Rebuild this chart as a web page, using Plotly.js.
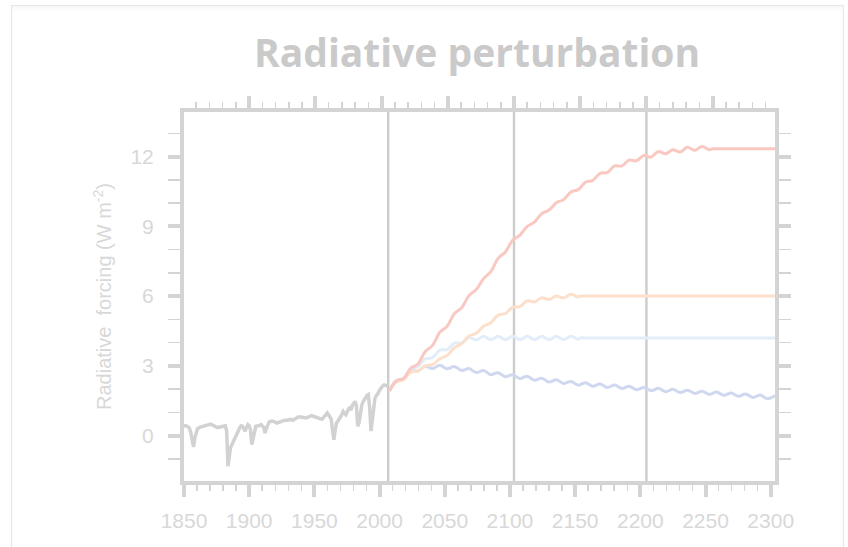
<!DOCTYPE html>
<html>
<head>
<meta charset="utf-8">
<script src="https://cdn.plot.ly/plotly-3.0.1.min.js"></script>
<style>
  html, body { margin: 0; padding: 0; background: #ffffff; }
  #wrap { position: relative; width: 848px; height: 547px; overflow: hidden; }
  #frame { position: absolute; left: 11px; top: 5px; width: 831px; height: 600px;
           border: 1.5px solid #e6e6e6; box-shadow: inset 0 3px 4px rgba(0,0,0,0.03); }
  #chart { position: absolute; left: 0; top: 0; width: 848px; height: 547px; }
</style>
</head>
<body>
<div id="wrap">
  <div id="frame"></div>
  <div id="chart"></div>
</div>
<script>
// ---- Historical total radiative forcing (W m-2) ----
const histYears = [1850, 1852, 1854, 1855, 1856, 1857, 1858, 1859, 1860, 1861, 1863, 1865, 1868, 1871, 1874, 1876, 1878, 1880, 1882,
  1883, 1884, 1885, 1886, 1887, 1888, 1889, 1890, 1891, 1892, 1893, 1894, 1895, 1896, 1897, 1898, 1899, 1900, 1901, 1902, 1903, 1904, 1905,
  1907, 1909, 1911, 1912, 1913, 1915, 1917, 1919, 1921, 1923, 1925, 1927, 1929, 1931, 1933, 1935, 1937, 1939, 1941, 1943, 1945, 1947,
  1949, 1951, 1953, 1955, 1957, 1959, 1961, 1962, 1963, 1964, 1965, 1966, 1967, 1968, 1969, 1970, 1971, 1972, 1973, 1974, 1975, 1976,
  1977, 1978, 1979, 1980, 1981, 1982, 1983, 1984, 1985, 1986, 1987, 1988, 1989, 1990, 1991, 1992, 1993, 1994, 1995, 1996, 1997, 1998,
  1999, 2000, 2001, 2002, 2003, 2004, 2005];
const histForcing = [0.40, 0.43, 0.37, 0.30, 0.10, -0.25, -0.49, -0.10, 0.20, 0.30, 0.36, 0.40, 0.44, 0.49, 0.40, 0.34, 0.37, 0.40, 0.42,
  0.20, -1.32, -0.90, -0.50, -0.38, -0.25, -0.17, 0.00, 0.15, 0.25, 0.35, 0.42, 0.40, 0.30, 0.19, 0.35, 0.47, 0.42, 0.25, -0.39, -0.10, 0.30, 0.40,
  0.42, 0.47, 0.35, 0.11, 0.30, 0.58, 0.62, 0.60, 0.54, 0.58, 0.64, 0.66, 0.66, 0.70, 0.66, 0.72, 0.80, 0.80, 0.78, 0.76, 0.80, 0.86,
  0.82, 0.76, 0.74, 0.70, 0.86, 0.97, 0.80, 0.69, 0.20, -0.18, 0.25, 0.55, 0.62, 0.70, 0.76, 0.90, 1.04, 0.96, 0.90, 1.00, 1.15, 1.19,
  1.10, 1.30, 1.40, 1.47, 1.30, 0.40, 0.55, 0.97, 1.30, 1.45, 1.55, 1.62, 1.72, 1.76, 1.20, 0.19, 0.70, 1.40, 1.60, 1.72, 1.78, 1.90,
  2.02, 2.08, 2.14, 2.18, 2.16, 2.13, 2.12];

// ---- Scenario years (solar-cycle peaks and troughs, then stabilisation) ----
const yearsRcp26 = [2006, 2011, 2016.5, 2022, 2027.5, 2033, 2038.5, 2044, 2049.5, 2055, 2060.5, 2066, 2071.5, 2077, 2082.5, 2088, 2093.5,
  2099, 2104.5, 2110, 2115.5, 2121, 2126.5, 2132, 2137.5, 2143, 2148.5, 2154, 2159.5, 2165, 2170.5, 2176, 2181.5, 2187, 2192.5, 2198,
  2203.5, 2209, 2214.5, 2220, 2225.5, 2231, 2236.5, 2242, 2247.5, 2253, 2258.5, 2264, 2269.5, 2275, 2280.5, 2286, 2291.5, 2297, 2300];
const yearsRcp45and60 = [2006, 2011, 2016.5, 2022, 2027.5, 2033, 2038.5, 2044, 2049.5, 2055, 2060.5, 2066, 2071.5, 2077, 2082.5, 2088, 2093.5,
  2099, 2104.5, 2110, 2115.5, 2121, 2126.5, 2132, 2137.5, 2143, 2148.5, 2150, 2153, 2300];
const yearsRcp85 = [2006, 2011, 2016.5, 2022, 2027.5, 2033, 2038.5, 2044, 2049.5, 2055, 2060.5, 2066, 2071.5, 2077, 2082.5, 2088, 2093.5,
  2099, 2104.5, 2110, 2115.5, 2121, 2126.5, 2132, 2137.5, 2143, 2148.5, 2154, 2159.5, 2165, 2170.5, 2176, 2181.5, 2187, 2192.5, 2198,
  2203.5, 2209, 2214.5, 2220, 2225.5, 2231, 2236.5, 2242, 2247.5, 2250, 2253, 2300];

const rcp26 = [1.93, 2.35, 2.45, 2.80, 2.78, 2.98, 2.88, 3.03, 2.87, 2.97, 2.80, 2.88, 2.71, 2.80, 2.62, 2.70, 2.53, 2.62, 2.45, 2.55, 2.38,
  2.47, 2.30, 2.40, 2.24, 2.33, 2.17, 2.27, 2.12, 2.22, 2.07, 2.17, 2.02, 2.12, 1.97, 2.07, 1.93, 2.03, 1.89, 1.99, 1.85, 1.95, 1.81,
  1.91, 1.77, 1.87, 1.73, 1.83, 1.69, 1.79, 1.64, 1.74, 1.58, 1.70, 1.68];
const rcp45 = [1.93, 2.33, 2.42, 2.85, 2.98, 3.30, 3.35, 3.68, 3.70, 3.98, 3.98, 4.22, 4.12, 4.27, 4.13, 4.27, 4.13, 4.27, 4.13, 4.27, 4.13,
  4.27, 4.13, 4.27, 4.13, 4.27, 4.14, 4.20, 4.20, 4.20];
const rcp60 = [1.93, 2.30, 2.40, 2.72, 2.78, 3.00, 3.05, 3.30, 3.45, 3.78, 3.95, 4.28, 4.40, 4.70, 4.85, 5.18, 5.25, 5.52, 5.55, 5.80, 5.75,
  5.93, 5.85, 6.00, 5.92, 6.08, 5.96, 6.00, 6.00, 6.00];
const rcp85 = [1.93, 2.35, 2.45, 2.90, 3.08, 3.62, 3.88, 4.45, 4.70, 5.25, 5.50, 6.02, 6.28, 6.75, 7.05, 7.62, 7.90, 8.40, 8.62, 9.00, 9.18,
  9.55, 9.70, 10.02, 10.15, 10.48, 10.58, 10.90, 10.98, 11.28, 11.32, 11.60, 11.60, 11.85, 11.82, 12.05, 11.98, 12.22, 12.12, 12.30,
  12.20, 12.40, 12.27, 12.44, 12.30, 12.34, 12.34, 12.34];

// ---- Period separators and axis labels ----
const separatorYears = [2005, 2100, 2200];
const xTickYears = [1850, 1900, 1950, 2000, 2050, 2100, 2150, 2200, 2250, 2300];
const yTickValues = [0, 3, 6, 9, 12];
const titleText = 'Radiative perturbation';
const yTitleText = 'Radiative&nbsp; forcing (W m<sup>-2</sup>)';

const AX = '#d4d4d4';
const LBL = '#d8d8d8';

function line(x, y, color, width, shape) {
  return { type: 'scatter', mode: 'lines', x: x, y: y, xaxis: 'x2', yaxis: 'y',
           line: { color: color, width: width, shape: shape || 'linear', smoothing: 1 },
           hoverinfo: 'skip', showlegend: false };
}

const data = [
  // placeholder trace so that the bottom (label) axis is drawn
  { type: 'scatter', mode: 'lines', x: [xTickYears[0]], y: [null], xaxis: 'x', yaxis: 'y',
    hoverinfo: 'skip', showlegend: false },
  line(histYears, histForcing, '#d2d2d2', 3.5),
  line(yearsRcp26, rcp26, '#cfd8ee', 3, 'spline'),
  line(yearsRcp45and60, rcp45, '#e2edf9', 3, 'spline'),
  line(yearsRcp45and60, rcp60, '#fde0cc', 3, 'spline'),
  line(yearsRcp85, rcp85, '#f9c8c1', 3, 'spline')
];

const shapes = separatorYears.map(yr => ({
  type: 'line', xref: 'x2', yref: 'paper', x0: yr, x1: yr, y0: 0, y1: 1,
  line: { color: '#cccccc', width: 2.4 }, layer: 'below'
}));

const tickFont = { family: 'Liberation Sans, Arial, sans-serif', size: 21, color: LBL };

const layout = {
  width: 848, height: 547,
  margin: { l: 184, r: 73, t: 112, b: 65.5 },
  paper_bgcolor: 'rgba(0,0,0,0)', plot_bgcolor: 'rgba(0,0,0,0)',
  showlegend: false,
  title: { text: titleText, x: 477 / 848, xref: 'container', xanchor: 'center',
           y: 1 - 53 / 547, yref: 'container', yanchor: 'middle',
           font: { family: 'Open Sans, Lato, sans-serif', size: 39, weight: 'bold', color: '#cacaca' } },
  xaxis: {
    range: [1850, 2303.3], tickvals: xTickYears, ticktext: xTickYears.map(String),
    showline: true, linewidth: 4, linecolor: AX, zeroline: false, showgrid: false,
    ticks: 'outside', ticklen: 12, tickwidth: 4, tickcolor: AX,
    minor: { dtick: 10, tick0: 1850, ticks: 'outside', ticklen: 6, tickwidth: 1.5, tickcolor: AX, showgrid: false },
    tickfont: tickFont, ticklabelstandoff: 6, fixedrange: true
  },
  xaxis2: {
    overlaying: 'x', side: 'top', anchor: 'y', range: [1850.8, 2297.1], dtick: 50, tick0: 1850,
    showline: true, linewidth: 4, linecolor: AX, zeroline: false, showgrid: false,
    ticks: 'outside', ticklen: 12, tickwidth: 4, tickcolor: AX, showticklabels: false,
    minor: { dtick: 10, tick0: 1850, ticks: 'outside', ticklen: 6, tickwidth: 1.5, tickcolor: AX, showgrid: false }
  },
  yaxis: {
    range: [-1.955, 13.92], tickvals: yTickValues, ticktext: yTickValues.map(String),
    showline: true, linewidth: 4, linecolor: AX, zeroline: false, showgrid: false, mirror: 'allticks',
    ticks: 'outside', ticklen: 12, tickwidth: 4, tickcolor: AX,
    minor: { dtick: 1, tick0: 0, ticks: 'outside', ticklen: 6, tickwidth: 1.5, tickcolor: AX, showgrid: false },
    tickfont: tickFont, ticklabelstandoff: 10,
    title: { text: yTitleText, standoff: 14,
             font: { family: 'Liberation Sans, Arial, sans-serif', size: 20, color: LBL } },
    automargin: true
  },
  shapes: shapes
};

Plotly.newPlot('chart', data, layout, { displayModeBar: false, staticPlot: true });
</script>
</body>
</html>
